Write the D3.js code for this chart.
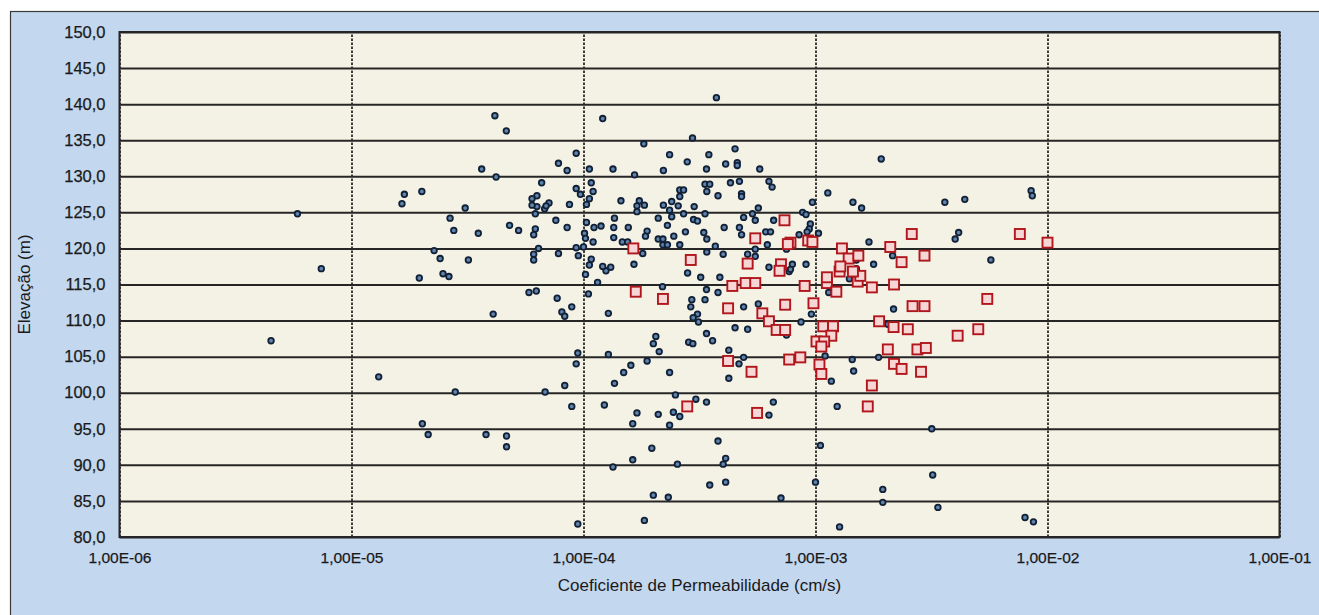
<!DOCTYPE html>
<html>
<head>
<meta charset="utf-8">
<script src="https://cdn.jsdelivr.net/npm/d3@7/dist/d3.min.js"></script>
<style>
  body { margin: 0; background: #fff; }
  svg { display: block; font-family: "Liberation Sans", Arial, sans-serif; }
  .grid-y line { stroke: #262626; stroke-width: 2; }
  .grid-x line { stroke: #2a2a2a; stroke-width: 1.8; stroke-dasharray: 2.5,1.5; }
  .grid-x path, .grid-y path { display: none; }
  .axis path, .axis line { display: none; }
  .axis text { fill: #1a1a1a; stroke: #1a1a1a; stroke-width: 0.25; }
</style>
</head>
<body>
<div id="chart"></div>
<script>
// tick values
var xTicks = [1e-6, 1e-5, 1e-4, 1e-3, 1e-2, 1e-1];
var yTicks = [80, 85, 90, 95, 100, 105, 110, 115, 120, 125, 130, 135, 140, 145, 150];

// blue circles: [k (cm/s), elevation (m)]
var pontosCirculo = [
  [4.5e-6,107.2],[1.31e-5,102.2],[4.15e-5,138.4],[3.64e-5,131.0],[4.2e-5,129.9],
  [1.69e-5,127.5],[2.01e-5,127.9],[1.65e-5,126.2],[3.09e-5,125.6],[5.85e-6,124.8],
  [2.66e-5,124.2],[2.76e-5,122.5],[3.52e-5,122.1],[2.27e-5,119.7],[2.41e-5,118.6],
  [3.19e-5,118.4],[7.41e-6,117.2],[1.96e-5,115.9],[2.48e-5,116.5],[2.63e-5,116.1],
  [5.82e-5,113.9],[6.26e-5,114.1],[7.7e-5,113.1],[8.9e-5,111.9],[8.07e-5,111.2],
  [8.3e-5,110.6],[4.08e-5,110.9],[1.02e-4,116.4],[1.15e-4,115.3],[1.25e-4,116.9],
  [1.05e-4,113.7],[1.28e-4,111.0],[2.05e-4,107.8],[2.0e-4,106.8],[2.12e-4,105.7],
  [1.88e-4,104.4],[1.6e-4,103.8],[1.49e-4,102.8],[1.36e-4,101.3],[9.45e-5,105.5],
  [1.28e-4,105.3],[9.3e-5,104.0],[8.3e-5,101.0],[6.83e-5,100.1],[2.8e-5,100.1],
  [8.9e-5,98.1],[1.23e-4,98.3],[1.7e-4,97.2],[2.1e-4,97.0],[1.63e-4,95.7],
  [2.02e-5,95.7],[2.14e-5,94.2],[3.8e-5,94.2],[4.66e-5,94.0],[4.66e-5,92.5],
  [1.97e-4,92.3],[1.63e-4,90.7],[1.34e-4,89.7],[2.0e-4,85.8],[1.83e-4,82.3],
  [9.45e-5,81.8],[2.81e-4,116.6],[3.2e-4,116.0],[3.87e-4,116.0],[2.19e-4,114.7],
  [3.39e-4,114.3],[3.8e-4,113.9],[2.93e-4,112.9],[3.34e-4,112.9],[2.9e-4,111.9],
  [3.1e-4,110.9],[2.97e-4,110.4],[3.13e-4,109.8],[4.9e-4,111.9],[5.67e-4,112.3],
  [4.5e-4,109.0],[5.1e-4,108.8],[3.39e-4,108.2],[3.6e-4,107.2],[2.84e-4,107.0],
  [2.96e-4,106.8],[4.23e-4,105.9],[4.9e-4,104.9],[4.68e-4,104.0],[7.5e-4,108.0],
  [8.66e-4,109.8],[9.6e-4,110.9],[2.35e-4,102.8],[4.23e-4,102.0],[2.49e-4,99.7],
  [3.05e-4,99.1],[3.39e-4,98.7],[6.58e-4,98.7],[6.3e-4,96.9],[2.44e-4,97.3],
  [2.6e-4,96.7],[2.35e-4,95.5],[3.8e-4,93.3],[4.1e-4,90.9],[4.0e-4,90.1],
  [2.54e-4,90.1],[3.5e-4,87.2],[4.1e-4,87.6],[2.32e-4,85.5],[7.1e-4,85.4],
  [1.05e-3,92.7],[1.0e-3,87.6],[1.27e-3,81.4],[1.95e-3,86.6],[1.95e-3,84.8],
  [1.24e-3,98.1],[1.17e-3,101.6],[1.46e-3,103.0],[1.44e-3,104.6],[1.87e-3,104.9],
  [1.1e-3,105.1],[2.17e-3,111.6],[2.05e-3,109.5],[1.14e-3,113.9],[1.4e-3,115.8],
  [7.7e-4,116.8],[3.61e-3,126.4],[4.4e-3,126.8],[8.5e-3,128.0],[8.6e-3,127.3],
  [4.14e-3,122.2],[4.0e-3,121.3],[5.7e-3,118.4],[3.17e-3,95.0],[3.2e-3,88.6],
  [3.37e-3,84.1],[8.0e-3,82.7],[8.7e-3,82.1],[3.47e-4,133.0],[4.1e-4,131.7],
  [4.6e-4,131.9],[4.6e-4,131.5],[3.39e-4,131.0],[5.75e-4,131.0],[1.92e-3,132.4],
  [3.34e-4,128.9],[3.5e-4,128.9],[4.3e-4,129.1],[4.7e-4,129.3],[6.3e-4,129.3],
  [6.5e-4,128.5],[3.4e-4,127.9],[3.8e-4,127.3],[4.8e-4,127.6],[4.8e-4,127.2],
  [1.13e-3,127.7],[1.45e-3,126.4],[1.58e-3,125.6],[9.7e-4,126.4],[3.0e-4,125.8],
  [3.34e-4,124.8],[5.67e-4,125.6],[5.35e-4,124.8],[8.8e-4,125.0],[9.1e-4,124.7],
  [2.98e-4,124.0],[3.1e-4,123.8],[4.9e-4,124.3],[5.5e-4,123.9],[6.6e-4,123.9],
  [4.04e-4,122.9],[4.7e-4,122.9],[9.5e-4,123.4],[9.4e-4,122.7],[9.2e-4,122.3],
  [3.3e-4,122.2],[6.1e-4,122.3],[6.4e-4,122.3],[4.8e-4,121.9],[8.5e-4,121.9],
  [1.03e-3,122.1],[3.4e-4,121.3],[1.7e-3,120.9],[3.7e-4,120.3],[6.2e-4,120.5],
  [5.5e-4,119.9],[3.4e-4,119.5],[4.0e-4,119.2],[5.1e-4,119.2],[5.5e-4,118.9],
  [7.5e-4,119.9],[2.15e-3,119.0],[1.5e-3,118.4],[1.78e-3,117.8],[6.3e-4,117.4],
  [7.95e-4,117.8],[9.1e-4,117.8],[7.8e-4,117.1],[1.5e-3,117.2],[9.3e-5,133.2],
  [7.8e-5,131.8],[8.5e-5,130.8],[1.06e-4,131.0],[1.34e-4,131.0],[1.66e-4,130.2],
  [2.21e-4,130.8],[2.35e-4,133.0],[2.8e-4,132.0],[6.6e-5,129.1],[1.08e-4,129.1],
  [1.1e-4,127.9],[9.3e-5,128.3],[9.7e-5,127.5],[1.06e-4,126.9],[6.3e-5,127.3],
  [6.0e-5,126.9],[7.1e-5,126.3],[6.3e-5,125.8],[6.8e-5,125.5],[6.2e-5,124.8],
  [8.7e-5,126.1],[1.03e-4,126.1],[1.45e-4,126.6],[1.74e-4,126.6],[1.7e-4,125.9],
  [1.83e-4,126.0],[1.7e-4,125.1],[2.21e-4,126.0],[2.4e-4,126.5],[2.6e-4,128.1],
  [2.7e-4,128.1],[2.6e-4,127.2],[2.56e-4,125.9],[2.35e-4,125.3],[2.7e-4,124.8],
  [4.8e-5,123.2],[5.25e-5,122.5],[6.2e-5,122.7],[6.1e-5,121.9],[7.6e-5,123.9],
  [8.5e-5,122.9],[1.03e-4,123.6],[1.11e-4,122.9],[1.19e-4,123.1],[1.01e-4,122.1],
  [1.02e-4,121.4],[1.1e-4,120.9],[1.35e-4,122.9],[1.36e-4,124.2],[1.56e-4,122.9],
  [1.35e-4,121.5],[1.47e-4,120.9],[1.55e-4,120.9],[1.88e-4,122.4],[1.85e-4,121.7],
  [2.1e-4,124.2],[2.3e-4,123.2],[2.4e-4,124.4],[2.75e-4,122.3],[2.45e-4,121.7],
  [2.1e-4,121.3],[2.2e-4,121.3],[2.2e-4,120.5],[2.3e-4,120.5],[2.6e-4,120.5],
  [6.4e-5,120.0],[6.1e-5,119.2],[6.1e-5,118.4],[7.8e-5,119.3],[9.3e-5,120.1],
  [1.0e-4,120.2],[9.5e-5,119.0],[1.08e-4,118.5],[1.06e-4,117.7],[1.21e-4,117.5],
  [1.31e-4,117.4],[1.65e-4,117.8],[1.8e-4,119.3],[3.74e-4,140.9],[1.21e-4,138.0],
  [4.65e-5,136.3],[2.95e-4,135.3],[1.82e-4,134.5],[4.5e-4,133.8],[6.0e-5,126.0],
  [6.9e-5,125.9]
];

// red squares: [k (cm/s), elevation (m)]
var pontosQuadrado = [
  [1.68e-4,114.0],[2.2e-4,113.0],[4.38e-4,114.8],[5.0e-4,115.2],[5.5e-4,115.2],
  [8.98e-4,114.8],[1.12e-3,115.2],[1.12e-3,116.0],[1.27e-3,116.8],[1.23e-3,114.0],
  [1.52e-3,115.4],[1.56e-3,116.2],[1.75e-3,114.6],[2.18e-3,115.0],[4.2e-4,111.7],
  [7.4e-4,112.2],[9.8e-4,112.4],[5.9e-4,111.0],[6.3e-4,109.9],[6.8e-4,108.7],
  [7.4e-4,108.7],[1.08e-3,109.2],[1.19e-3,109.2],[1.17e-3,107.9],[1.01e-3,107.1],
  [1.09e-3,107.1],[1.06e-3,106.4],[1.88e-3,109.9],[2.17e-3,109.1],[2.05e-3,106.0],
  [2.18e-3,104.0],[4.2e-4,104.4],[5.3e-4,102.9],[7.7e-4,104.6],[8.6e-4,104.9],
  [1.04e-3,103.9],[1.06e-3,102.6],[1.75e-3,101.0],[1.68e-3,98.1],[2.8e-4,98.1],
  [5.6e-4,97.2],[2.6e-3,122.0],[7.6e-3,122.0],[1.0e-2,120.8],[2.95e-3,119.0],
  [2.35e-3,118.1],[5.5e-3,113.0],[2.62e-3,112.0],[2.95e-3,112.0],[2.5e-3,108.8],
  [4.1e-3,107.9],[5.03e-3,108.8],[2.75e-3,106.0],[2.99e-3,106.2],[2.35e-3,103.3],
  [2.85e-3,102.9],[7.35e-4,123.9],[5.5e-4,121.4],[7.8e-4,120.8],[7.6e-4,120.6],
  [9.3e-4,121.1],[9.7e-4,120.9],[1.3e-3,120.0],[2.1e-3,120.2],[5.1e-4,117.9],
  [7.1e-4,117.8],[7.0e-4,116.9],[1.39e-3,118.6],[1.53e-3,119.0],[1.28e-3,117.5],
  [1.45e-3,116.8],[1.64e-4,120.0],[2.9e-4,118.4]
];

var W = 1319, H = 615;
var margin = {left: 119.5, top: 32, right: 39.5, bottom: 78};
var w = W - margin.left - margin.right,
    h = H - margin.top - margin.bottom;

var svg = d3.select('#chart').append('svg')
  .attr('width', W)
  .attr('height', H);

// outer frame (right and bottom edges run off the picture)
svg.append('rect')
  .attr('x', 10.5).attr('y', 11.5)
  .attr('width', W + 20).attr('height', H + 20)
  .attr('fill', '#c3d7ef')
  .attr('stroke', '#3a3a3a')
  .attr('stroke-width', 1.2);

var g = svg.append('g')
  .attr('transform', 'translate(' + margin.left + ',' + margin.top + ')');

var xScale = d3.scaleLog().domain([1e-6, 1e-1]).range([0, w]);
var yScale = d3.scaleLinear().domain([80, 150]).range([h, 0]);

g.append('rect')
  .attr('width', w).attr('height', h)
  .attr('fill', '#f4f2e4');

// vertical dashed grid
g.append('g')
  .attr('class', 'grid-x')
  .attr('transform', 'translate(0,' + h + ')')
  .call(d3.axisBottom(xScale).tickValues(xTicks).tickSize(-h).tickFormat(''));

// horizontal grid
g.append('g')
  .attr('class', 'grid-y')
  .call(d3.axisLeft(yScale).tickValues(yTicks).tickSize(-w).tickFormat(''));

function fmtExp(d) {
  var e = Math.round(Math.log10(d));
  return '1,00E' + (e < 0 ? '-' : '+') + String(Math.abs(e)).padStart(2, '0');
}
function fmtDec(d) {
  return d3.format('.1f')(d).replace('.', ',');
}

var xAxis = g.append('g')
  .attr('class', 'axis x-axis')
  .attr('transform', 'translate(0,' + h + ')')
  .call(d3.axisBottom(xScale).tickValues(xTicks).tickSize(0).tickPadding(15).tickFormat(fmtExp));
xAxis.selectAll('text').style('font-size', '15.5px');

var yAxis = g.append('g')
  .attr('class', 'axis y-axis')
  .call(d3.axisLeft(yScale).tickValues(yTicks).tickSize(0).tickPadding(14).tickFormat(fmtDec));
yAxis.selectAll('text').style('font-size', '16.5px');

// blue circles
g.append('g')
  .selectAll('.circ')
  .data(pontosCirculo)
  .enter()
  .append('circle')
  .attr('class', 'circ')
  .attr('cx', function(d) {return xScale(d[0]);})
  .attr('cy', function(d) {return yScale(d[1]);})
  .attr('r', 2.8)
  .attr('fill', '#5f84ad')
  .attr('stroke', '#122036')
  .attr('stroke-width', 1.8);

// red squares
var s = 10;
g.append('g')
  .selectAll('.sq')
  .data(pontosQuadrado)
  .enter()
  .append('rect')
  .attr('class', 'sq')
  .attr('x', function(d) {return xScale(d[0]) - s / 2;})
  .attr('y', function(d) {return yScale(d[1]) - s / 2;})
  .attr('width', s).attr('height', s)
  .attr('fill', '#f7d6d6')
  .attr('stroke', '#b0161c')
  .attr('stroke-width', 1.9);

// plot border
g.append('rect')
  .attr('width', w).attr('height', h)
  .attr('fill', 'none')
  .attr('stroke', '#262626')
  .attr('stroke-width', 2);

svg.append('text')
  .attr('x', margin.left + w / 2)
  .attr('y', 591)
  .attr('text-anchor', 'middle')
  .style('font-size', '17px')
  .attr('fill', '#1a1a1a')
  .text('Coeficiente de Permeabilidade (cm/s)');

svg.append('text')
  .attr('transform', 'translate(30,' + (margin.top + h / 2) + ') rotate(-90)')
  .attr('text-anchor', 'middle')
  .style('font-size', '17px')
  .attr('fill', '#1a1a1a')
  .text('Elevação (m)');
</script>
</body>
</html>
